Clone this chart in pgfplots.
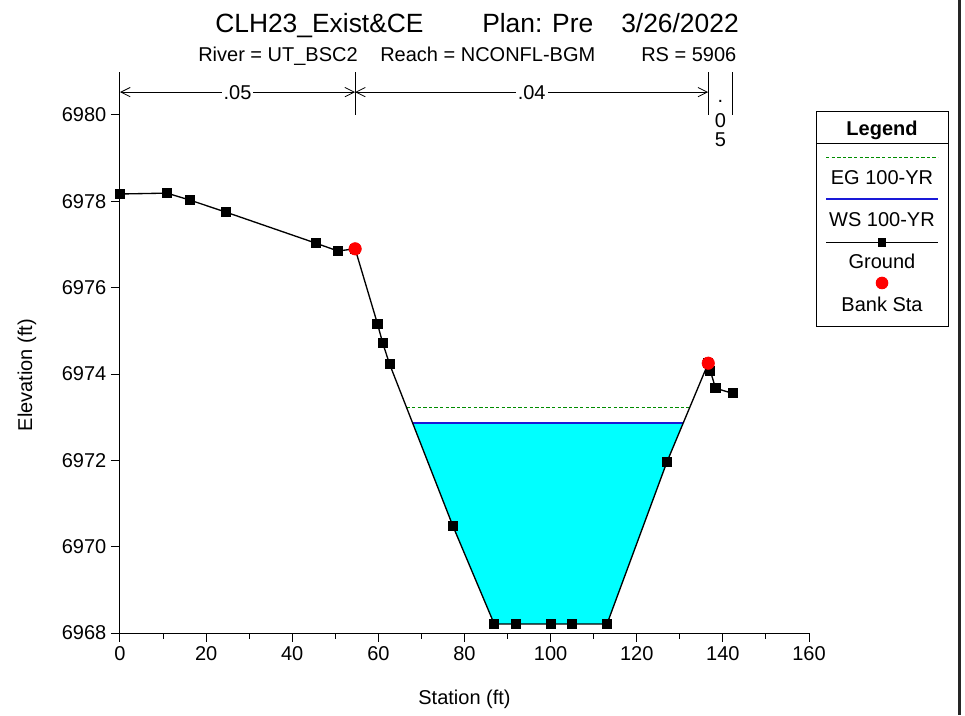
\documentclass[border=0pt]{standalone}
\usepackage{fontspec}
\setmainfont{Liberation Sans}
\usepackage{pgfplots}
\pgfplotsset{compat=1.18}
\usetikzlibrary{arrows.meta}
\definecolor{wsblue}{RGB}{25,25,215}
\definecolor{eggreen}{RGB}{0,140,0}
\definecolor{water}{RGB}{0,255,255}
\newcommand{\fs}{\fontsize{15pt}{18pt}\selectfont}
\begin{document}
\begin{tikzpicture}
\path[use as bounding box] (0,0) rectangle (723.75pt,536.25pt);
\begin{axis}[
  at={(90pt,61.5pt)}, anchor=south west,
  scale only axis, width=516.75pt, height=388.5pt,
  xmin=0, xmax=160, ymin=6968, ymax=6980,
  axis lines*=left,
  axis line style={line width=0.75pt},
  xtick={0,20,...,160}, minor x tick num=1,
  ytick={6968,6970,...,6980}, minor y tick num=4,
  tick align=outside,
  major tick length=6.75pt, minor tick length=4.5pt,
  tick style={black, line width=0.75pt},
  ticklabel style={font=\fs},
  /pgf/number format/.cd, 1000 sep={}, assume math mode=true, /pgfplots/.cd,
  xlabel={Station (ft)}, ylabel={Elevation (ft)},
  label style={font=\fs},
  xlabel style={at={(axis description cs:0.5,-0.129)}, anchor=center},
  ylabel style={at={(axis description cs:-0.135,0.498)}, anchor=center},
  clip=false,
]
% water area
\addplot[draw=none, fill=water] coordinates {
 (67.9,6972.87) (77.3,6970.48) (86.9,6968.21) (113.1,6968.21) (127.0,6971.96) (130.8,6972.87)} -- cycle;
% EG
\addplot[eggreen, line width=0.85pt, dash pattern=on 2.6pt off 1.6pt] coordinates {(66.5,6973.23) (132.3,6973.23)};
% WS
\addplot[wsblue, line width=1.3pt] coordinates {(67.9,6972.87) (130.8,6972.87)};
% Ground
\addplot[black, line width=1pt, mark=square*, mark size=3.3pt, mark options={solid}] coordinates {
 (0,6978.17) (10.9,6978.19) (16.2,6978.03) (24.6,6977.75) (45.5,6977.03) (50.6,6976.85)
 (54.6,6976.90) (59.8,6975.16) (61.0,6974.72) (62.6,6974.23) (77.3,6970.48)
 (86.9,6968.21) (91.9,6968.21) (100.0,6968.21) (104.9,6968.21) (113.1,6968.21)
 (127.0,6971.96) (136.6,6974.25) (137.1,6974.07) (138.3,6973.67) (142.3,6973.55)};
% Bank stations
\addplot[only marks, mark=*, mark size=4.7pt, color=red] coordinates {(54.6,6976.90) (136.6,6974.25)};
% n-value breaks
\draw[line width=0.75pt] (axis cs:0,6980) -- (axis cs:0,6981);
\draw[line width=0.75pt] (axis cs:54.6,6980) -- (axis cs:54.6,6981);
\draw[line width=0.75pt] (axis cs:136.6,6980) -- (axis cs:136.6,6981);
\draw[line width=0.75pt] (axis cs:142.3,6980) -- (axis cs:142.3,6981);
\draw[line width=0.6pt, {Straight Barb[length=7pt,width=7pt]}-{Straight Barb[length=7pt,width=7pt]}]
  (axis cs:0,6980.53) -- (axis cs:54.6,6980.53) node[midway, fill=white, inner sep=1.5pt, font=\fs] {.05};
\draw[line width=0.6pt, {Straight Barb[length=7pt,width=7pt]}-{Straight Barb[length=7pt,width=7pt]}]
  (axis cs:54.6,6980.53) -- (axis cs:136.6,6980.53) node[midway, fill=white, inner sep=1.5pt, font=\fs] {.04};
\node[anchor=base, inner sep=0pt, font=\fs] at (axis cs:139.45,6980.29) {.};
\node[anchor=base, inner sep=0pt, font=\fs] at (axis cs:139.45,6979.72) {0};
\node[anchor=base, inner sep=0pt, font=\fs] at (axis cs:139.45,6979.26) {5};
\end{axis}
\begin{scope}[shift={(0pt,536.25pt)}, x=0.75pt, y=-0.75pt]
% titles
\node[anchor=base west, inner sep=0pt, font=\fontsize{19.8pt}{22pt}\selectfont] at (215,33) {CLH23\_Exist\&CE};
\node[anchor=base west, inner sep=0pt, font=\fontsize{19.8pt}{22pt}\selectfont] at (482,33) {Plan: Pre};
\node[anchor=base west, inner sep=0pt, font=\fontsize{19.8pt}{22pt}\selectfont] at (621,33) {3/26/2022};
\node[anchor=base west, inner sep=0pt, font=\fs] at (198,62) {River = UT\_BSC2};
\node[anchor=base west, inner sep=0pt, font=\fs] at (380,62) {Reach = NCONFL-BGM};
\node[anchor=base west, inner sep=0pt, font=\fs] at (641,62) {RS = 5906};
% legend
\draw[line width=0.75pt, fill=white] (816,112) rectangle (948,327);
\draw[line width=0.75pt] (816,144) -- (948,144);
\node[anchor=base, inner sep=0pt, font=\fs\bfseries] at (882,136) {Legend};
\draw[eggreen, line width=0.85pt, dash pattern=on 2.6pt off 1.6pt] (826,157.7) -- (938,157.7);
\node[anchor=base, inner sep=0pt, font=\fs] at (882,185) {EG 100-YR};
\draw[wsblue, line width=1.3pt] (826,199) -- (938,199);
\node[anchor=base, inner sep=0pt, font=\fs] at (882,226.7) {WS 100-YR};
\draw[black, line width=1pt] (826,242.7) -- (938,242.7);
\fill[black] (877.6,238.3) rectangle (886.4,247.1);
\node[anchor=base, inner sep=0pt, font=\fs] at (882,269) {Ground};
\fill[red] (882,283) circle (6.3);
\node[anchor=base, inner sep=0pt, font=\fs] at (882,311.5) {Bank Sta};
% right frame
\draw[line width=2.2pt, black!85] (959.5,0) -- (959.5,715);
\end{scope}
\end{tikzpicture}
\end{document}
